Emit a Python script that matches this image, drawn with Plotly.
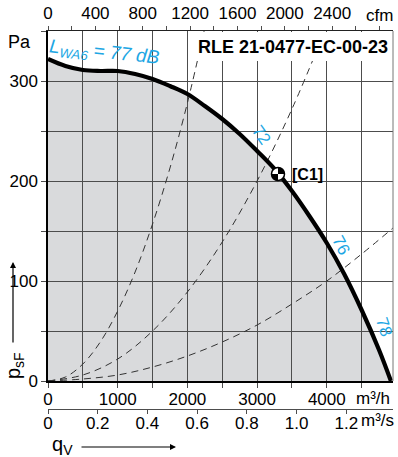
import plotly.graph_objects as go

# ---- data ----
q_curve = [0, 250, 500, 750, 1000, 1250, 1500, 1750, 2000, 2250, 2500, 2750, 3000, 3250, 3500, 3750, 4000, 4250, 4500, 4750, 4920]
p_curve = [322, 315, 311, 310, 310, 307, 302, 295, 287, 275, 262, 247, 230, 212, 190, 165, 138, 107, 71, 31, 0]

sysA_q = [0, 250, 500, 750, 1000, 1250, 1500, 1750, 2000, 2240]
sysA_p = [0, 4, 17, 39, 70, 109, 157, 213, 278, 350]
sysB_q = [0, 500, 1000, 1500, 2000, 2500, 3000, 3500, 3970]
sysB_p = [0, 6, 22, 50, 89, 139, 200, 272, 350]
sysC_q = [0, 500, 1000, 1500, 2000, 2500, 3000, 3500, 4000, 4500, 4950]
sysC_p = [0, 2, 6, 14, 25, 39, 56, 77, 100, 127, 153]

op_q = [3300]
op_p = [207]
op_label = "[C1]"

lbl_text = ["72", "76", "78"]
lbl_q = [3066, 4208, 4828]
lbl_p = [246, 136, 54]
lbl_angle = [55, 62, 72]

x_ticks = [0, 500, 1000, 1500, 2000, 2500, 3000, 3500, 4000, 4500]
x_labels = ["0", "", "1000", "", "2000", "", "3000", "", "4000", ""]
y_ticks = [0, 50, 100, 150, 200, 250, 300, 350]
y_labels = ["0", "", "100", "", "200", "", "300", ""]
cfm_ticks = [0, 200, 400, 600, 800, 1000, 1200, 1400, 1600, 1800, 2000, 2200, 2400, 2600, 2800]
cfm_labels = ["0", "", "400", "", "800", "", "1200", "", "1600", "", "2000", "", "2400", "", ""]
ms_ticks = [0, 0.2, 0.4, 0.6, 0.8, 1.0, 1.2]
ms_labels = ["0", "0.2", "0.4", "0.6", "0.8", "1.0", "1.2"]

title = "RLE 21-0477-EC-00-23"
Q_MAX = 4950
P_MAX = 350
CFM_FACTOR = 1.69901
MS_MAX = 1.388

BLUE = "#1ea7e4"
GRID = "#4d4d4d"
FILL = "#d9dadc"
FONT = "Liberation Sans, Arial, sans-serif"

W, H = 398, 457
L, R, T, B = 48, 5, 31, 48
PW, PH = W - L - R, H - T - B


def px(x):
    return (x - L) / PW


def py(y):
    return (H - B - y) / PH


fig = go.Figure()

# gray area under the fan curve (below grid lines)
path = "M 0,0 " + " ".join(f"L {q},{p}" for q, p in zip(q_curve, p_curve)) + f" L {q_curve[-1]},0 Z"
fig.add_shape(type="path", path=path, xref="x", yref="y", layer="below",
              fillcolor=FILL, line=dict(width=0))

for qs, ps in [(sysA_q, sysA_p), (sysB_q, sysB_p), (sysC_q, sysC_p)]:
    fig.add_trace(go.Scatter(x=qs, y=ps, mode="lines",
                             line=dict(color="#333333", width=1, dash="7px,5px", shape="spline"),
                             hoverinfo="skip", showlegend=False))

fig.add_trace(go.Scatter(x=q_curve, y=p_curve, mode="lines", line=dict(color="black", width=4.2, shape="spline"),
                         hoverinfo="skip", showlegend=False))

# dummy traces so the extra axes render
fig.add_trace(go.Scatter(x=[0], y=[0], xaxis="x2", yaxis="y", mode="markers", marker=dict(opacity=0),
                         hoverinfo="skip", showlegend=False))
fig.add_trace(go.Scatter(x=[0], y=[0], xaxis="x3", yaxis="y", mode="markers", marker=dict(opacity=0),
                         hoverinfo="skip", showlegend=False))

# title box
fig.add_shape(type="rect", xref="paper", yref="paper", x0=px(196), x1=px(392), y0=py(61), y1=py(32),
              fillcolor="white", line=dict(width=0), layer="above")
fig.add_annotation(text=f"<b>{title}</b>", xref="paper", yref="paper", x=px(390), y=py(47),
                   xanchor="right", yanchor="middle", showarrow=False, font=dict(size=18, color="black", family=FONT))

# right border
fig.add_shape(type="line", xref="paper", yref="paper", x0=1, x1=1, y0=py(381), y1=1,
              line=dict(color="#777777", width=1), layer="above")

# operating point marker
for q, p in zip(op_q, op_p):
    fig.add_shape(type="circle", xref="x", yref="y", xsizemode="pixel", ysizemode="pixel",
                  xanchor=q, yanchor=p, x0=-6.5, x1=6.5, y0=-6.5, y1=6.5,
                  fillcolor="white", line=dict(color="black", width=1.5), layer="above")
    fig.add_shape(type="path", xref="x", yref="y", xsizemode="pixel", ysizemode="pixel",
                  xanchor=q, yanchor=p, path="M 0,0 L 0,6.5 C 3.6,6.5 6.5,3.6 6.5,0 Z",
                  fillcolor="black", line=dict(width=0), layer="above")
    fig.add_shape(type="path", xref="x", yref="y", xsizemode="pixel", ysizemode="pixel",
                  xanchor=q, yanchor=p, path="M 0,0 L 0,-6.5 C -3.6,-6.5 -6.5,-3.6 -6.5,0 Z",
                  fillcolor="black", line=dict(width=0), layer="above")
    fig.add_annotation(text=f"<b>{op_label}</b>", x=q, y=p, xref="x", yref="y", xanchor="left",
                       yanchor="middle", xshift=12, showarrow=False, font=dict(size=16, color="black", family=FONT))

for t, q, p, a in zip(lbl_text, lbl_q, lbl_p, lbl_angle):
    fig.add_annotation(text=t, x=q, y=p, xref="x", yref="y", textangle=a, showarrow=False,
                       xanchor="center", yanchor="middle", font=dict(size=17, color=BLUE, family=FONT))

fig.add_annotation(text="<i>L<sub>WA6</sub> = 77 dB</i>", xref="paper", yref="paper", x=px(104), y=py(53),
                   xanchor="center", yanchor="middle", textangle=6, showarrow=False,
                   font=dict(size=19, color=BLUE, family=FONT))


def label(text, x, y, size=17, angle=0):
    fig.add_annotation(text=text, xref="paper", yref="paper", x=px(x), y=py(y), xanchor="center",
                       yanchor="middle", textangle=angle, showarrow=False,
                       font=dict(size=size, color="black", family=FONT))


label("Pa", 19, 42, 18)
label("cfm", 379, 15)
label("m³/h", 373, 398)
label("m³/s", 377, 421)
label("p<sub>sF</sub>", 14, 366, 20, -90)
label("q<sub>V</sub>", 62, 445, 20)

fig.add_annotation(text="", xref="paper", yref="paper", x=px(13), y=py(262), ax=0, ay=82,
                   showarrow=True, arrowhead=2, arrowsize=1, arrowwidth=1.2, arrowcolor="black")
fig.add_annotation(text="", xref="paper", yref="paper", x=px(176), y=py(447), ax=-96, ay=0,
                   showarrow=True, arrowhead=2, arrowsize=1, arrowwidth=1.2, arrowcolor="black")

tickfont = dict(size=17, color="black", family=FONT)
fig.update_layout(
    width=W, height=H, margin=dict(l=L, r=R, t=T, b=B),
    paper_bgcolor="white", plot_bgcolor="white", showlegend=False,
    xaxis=dict(range=[0, Q_MAX], tickvals=x_ticks, ticktext=x_labels, showgrid=True, gridcolor=GRID,
               gridwidth=1, ticks="outside", ticklen=5, tickcolor=GRID, showline=True, linecolor="black",
               linewidth=1.5, zeroline=False, anchor="y", tickfont=tickfont, fixedrange=True, automargin=False,
               ticklabelstandoff=-3),
    yaxis=dict(domain=[py(381), 1], range=[0, P_MAX], tickvals=y_ticks, ticktext=y_labels, showgrid=True,
               gridcolor=GRID, gridwidth=1, ticks="outside", ticklen=5, tickcolor=GRID, showline=True,
               linecolor="black", linewidth=1.5, zeroline=False, tickfont=tickfont, fixedrange=True,
               automargin=False),
    xaxis2=dict(range=[0, Q_MAX / CFM_FACTOR], overlaying="x", side="top", anchor="y", tickvals=cfm_ticks,
                ticktext=cfm_labels, showgrid=False, ticks="outside", ticklen=4, tickcolor=GRID,
                showline=True, linecolor="#222222", linewidth=1, zeroline=False, tickfont=tickfont,
                fixedrange=True, automargin=False),
    xaxis3=dict(range=[0, MS_MAX], overlaying="x", side="bottom", anchor="free", position=0, tickvals=ms_ticks,
                ticktext=ms_labels, showgrid=False, ticks="outside", ticklen=4, tickcolor=GRID,
                showline=True, linecolor=GRID, linewidth=1, zeroline=False, tickfont=tickfont, fixedrange=True,
                automargin=False, ticklabelstandoff=-5),
)

fig.write_html("out.html", config={"displayModeBar": False},
               post_script="document.body.style.margin='0';")
